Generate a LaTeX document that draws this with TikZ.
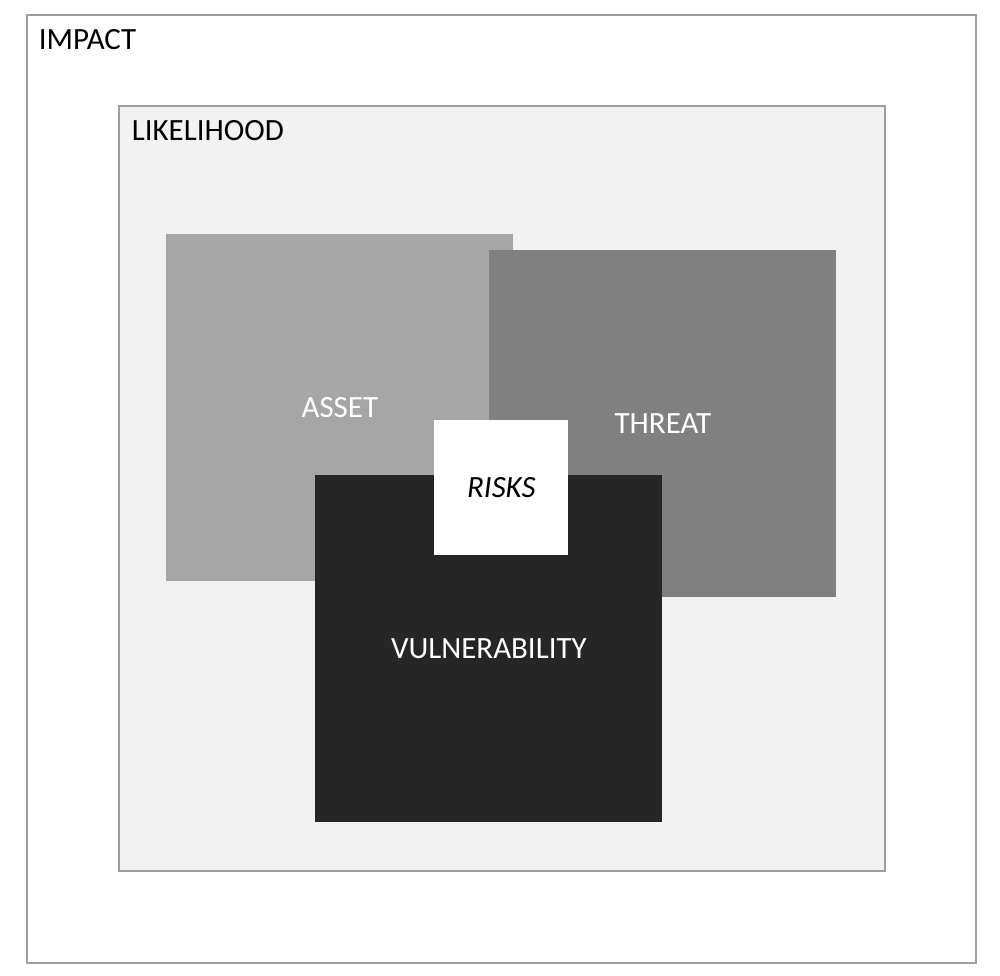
\documentclass[tikz,border=0pt]{standalone}
\usepackage{fontspec}
\setmainfont{Carlito}
\colorlet{lhood}{black!5}
\colorlet{asset}{black!35}
\colorlet{threat}{black!50}
\colorlet{vuln}{black!85}
\usepackage{tikz}
\usetikzlibrary{positioning}

\begin{document}
\begin{tikzpicture}[
      every node/.style={font=\fontsize{17.6}{20}\selectfont},
      frame/.style={draw=black!38,line width=1.2pt,anchor=north west},
      riskbox/.style={draw=none,anchor=north west,minimum width=6.94cm,minimum height=6.94cm,text=white}
    ]
    \useasboundingbox[fill=white] (0,0) rectangle (20,-19.5);

    \node[frame,fill=white,minimum width=18.98cm,minimum height=18.96cm] (impact) at (0.52,-0.28) {};
    \node[below right=.24cm and .18cm of impact.north west,inner sep=2pt] {IMPACT};

    \node[frame,fill=lhood,minimum width=15.32cm,minimum height=15.30cm] (likelihood) at (2.36,-2.10) {};
    \node[below right=.24cm and .2cm of likelihood.north west,inner sep=2pt] {LIKELIHOOD};

    \node[riskbox,fill=asset]  (asset)  at (3.32,-4.68) {ASSET};
    \node[riskbox,fill=threat] (threat) at (9.78,-5.00) {THREAT};
    \node[riskbox,fill=vuln]   (vuln)   at (6.30,-9.50) {VULNERABILITY};

    \node[
      riskbox,fill=white,text=black,minimum width=2.68cm,minimum height=2.70cm
    ] (risks) at (8.68,-8.40) {\itshape RISKS};
  \end{tikzpicture}
\end{document}
